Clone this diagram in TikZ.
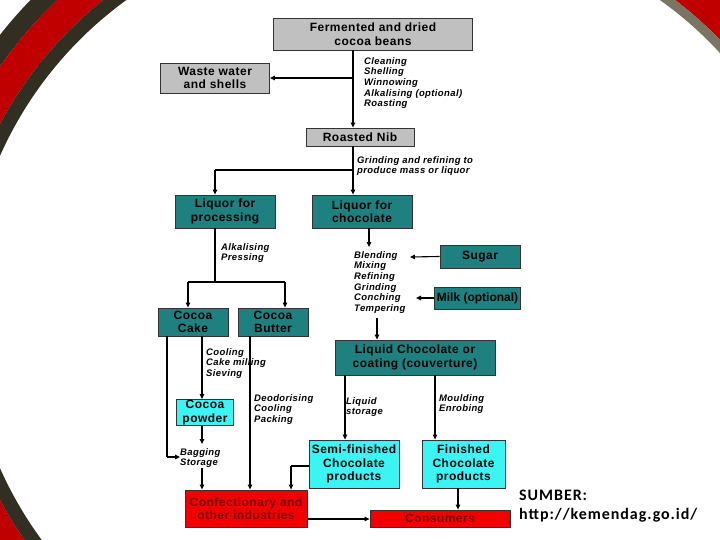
\documentclass[tikz,border=0pt]{standalone}
\usepackage{fontspec}
\setmainfont{Liberation Sans}
\newfontfamily\sumberfont{Carlito}
\usetikzlibrary{arrows.meta}

\definecolor{boxgray}{HTML}{C0C0C0}
\definecolor{boxteal}{HTML}{1F8080}
\definecolor{boxcyan}{HTML}{3CF4F4}
\definecolor{boxred}{HTML}{F20000}
\definecolor{txtred}{HTML}{7A0000}
\definecolor{banddark}{HTML}{332E22}
\definecolor{bandred}{HTML}{C00000}
\definecolor{bandgray}{HTML}{7A7462}

\begin{document}
\begin{tikzpicture}[
    x=1pt, y=-1pt,
    stage/.style={draw=black!80, line width=0.8pt, align=center, inner sep=0pt,
        font=\fontsize{12}{13.5}\selectfont\bfseries\addfontfeature{LetterSpace=4}},
    grey/.style={stage, fill=boxgray},
    teal/.style={stage, fill=boxteal},
    light/.style={stage, fill=boxcyan},
    hot/.style={stage, fill=boxred, text=txtred},
    steps/.style={anchor=north west, align=left, inner sep=0pt,
        font=\fontsize{9.5}{10.7}\selectfont\bfseries\itshape\addfontfeature{LetterSpace=4}},
    arrow/.style={-{Triangle[length=5pt, width=4.5pt]}, line width=1.1pt},
    line/.style={line width=1.1pt}
]
    \useasboundingbox (0,0) rectangle (720,540);

    % --- slide decoration ---
    \begin{scope}
        \clip (0,0) rectangle (200,540);
        \fill[banddark, even odd rule] (352,312) circle[radius=448] (352,312) circle[radius=429];
        \fill[bandred, even odd rule] (352,312) circle[radius=429] (352,312) circle[radius=399];
        \fill[banddark, even odd rule] (352,312) circle[radius=399] (352,312) circle[radius=385];
    \end{scope}
    \begin{scope}
        \clip (600,0) rectangle (720,120);
        \fill[bandred, even odd rule] (440,310) circle[radius=480] (440,310) circle[radius=389];
        \fill[bandgray, even odd rule] (440,310) circle[radius=389] (440,310) circle[radius=380];
    \end{scope}

    % --- stages ---
    \node[grey, minimum width=199, minimum height=32] (beans) at (373,34) {Fermented and dried\\cocoa beans};
    \node[grey, minimum width=109, minimum height=30] (waste) at (215,78) {Waste water\\and shells};
    \node[grey, minimum width=108, minimum height=18] (nib) at (360,137) {Roasted Nib};

    \node[teal, minimum width=100, minimum height=33] (liqproc) at (225,211.5) {Liquor for\\processing};
    \node[teal, minimum width=100, minimum height=33] (liqchoc) at (362,211.5) {Liquor for\\chocolate};
    \node[teal, minimum width=80, minimum height=23] (sugar) at (480,256.5) {Sugar};
    \node[teal, minimum width=86, minimum height=22,
          font=\fontsize{12}{13.5}\selectfont\bfseries] (milk) at (477.5,298) {Milk (optional)};

    \node[teal, minimum width=70, minimum height=28] (cake) at (193,322) {Cocoa\\Cake};
    \node[teal, minimum width=70, minimum height=28] (butter) at (273,322) {Cocoa\\Butter};
    \node[teal, minimum width=160, minimum height=35] (liquid) at (415,357.5) {Liquid Chocolate or\\coating (couverture)};

    \node[light, minimum width=57, minimum height=26] (powder) at (205,412.5) {Cocoa\\powder};
    \node[light, minimum width=90, minimum height=48] (semi) at (354,464) {Semi-finished\\Chocolate\\products};
    \node[light, minimum width=83, minimum height=48] (finished) at (463.5,464) {Finished\\Chocolate\\products};

    \node[hot, minimum width=122, minimum height=37] (confect) at (246,508.5) {Confectionary and\\other industries};
    \node[hot, minimum width=140, minimum height=17] (consumers) at (440,518.5) {Consumers};

    % --- process steps ---
    \node[steps] (clean) at (364,57) {Cleaning\\Shelling\\Winnowing\\Alkalising (optional)\\Roasting};
    \node[steps] (grind) at (357,156) {Grinding and refining to\\produce mass or liquor};
    \node[steps] (press) at (221,243) {Alkalising\\Pressing};
    \node[steps] (blend) at (354,251) {Blending\\Mixing\\Refining\\Grinding\\Conching\\Tempering};
    \node[steps] (cool) at (206,348) {Cooling\\Cake milling\\Sieving};
    \node[steps] (deo) at (254,394) {Deodorising\\Cooling\\Packing};
    \node[steps] (store) at (346,397) {Liquid\\storage};
    \node[steps] (mould) at (439,394) {Moulding\\Enrobing};
    \node[steps] (bag) at (180,448) {Bagging\\Storage};

    % --- connectors ---
    \coordinate (split1) at (353,78);
    \draw[line] (split1 |- beans.south) -- (split1);
    \draw[arrow] (split1) -- (waste.east);
    \draw[arrow] (split1) -- (split1 |- nib.north);

    \coordinate (split2) at (353,170);
    \draw[line] (split2 |- nib.south) -- (split2);
    \draw[arrow] (split2) -- (split2 |- liqchoc.north);
    \draw[line] (split2) -- (215,170);
    \draw[arrow] (215,170) -- (215,170 |- liqproc.north);

    \draw[arrow] (369,228) -- (369,247);
    \draw[arrow] (sugar.west) -- (410,257);
    \draw[arrow] (milk.west) -- (416,298);
    \draw[arrow] (377,318) -- (377,318 |- liquid.north);

    \coordinate (split3) at (215,282);
    \draw[line] (split3 |- liqproc.south) -- (split3);
    \draw[line] (188,282) -- (285,282);
    \draw[arrow] (188,282) -- (188,282 |- cake.north);
    \draw[arrow] (285,282) -- (285,282 |- butter.north);

    \draw[arrow] (202,336) -- (202,336 |- powder.north);
    \draw[line] (167,336) -- (167,457);
    \draw[arrow] (167,457) -- (bag.west |- 0,457);
    \draw[arrow] (202,426) -- (202,444);
    \draw[arrow] (202,468) -- (202,468 |- confect.north);
    \draw[arrow] (250,336) -- (250,336 |- confect.north);

    \draw[arrow] (345,375) -- (345,375 |- semi.north);
    \draw[arrow] (435,375) -- (435,375 |- finished.north);
    \draw[line] (semi.west |- 0,466) -- (291,466);
    \draw[arrow] (291,466) -- (291,466 |- confect.north);
    \draw[arrow] (458,488) -- (458,488 |- consumers.north);
    \draw[arrow] (confect.east |- 0,519) -- (consumers.west |- 0,519);

    % --- source ---
    \node[anchor=north west, align=left, inner sep=0pt,
          font=\sumberfont\fontsize{16}{19}\selectfont\bfseries\addfontfeature{LetterSpace=6}] (sumber) at (519,490)
          {SUMBER:\\http://kemendag.go.id/};
\end{tikzpicture}
\end{document}
